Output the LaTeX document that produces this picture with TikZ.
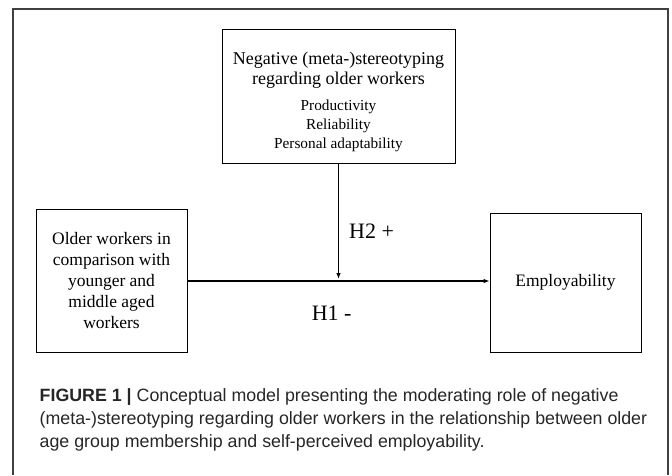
\documentclass[tikz,border=0pt]{standalone}
\usepackage{fontspec}
\setmainfont{Liberation Serif}
\newfontfamily\capfont{Liberation Sans}
\usetikzlibrary{arrows.meta}
\begin{document}
\begin{tikzpicture}[x=1pt,y=-1pt,
  boxnode/.style={draw=black, line width=0.9pt, inner sep=0pt, align=center},
  txt/.style={inner sep=0pt, align=center},
  conn/.style={line width=1.1pt, -{Latex[length=6pt,width=4.5pt]}},
  hlabel/.style={font=\fontsize{22}{24}\selectfont, inner sep=0pt, anchor=base west},
  capline/.style={font=\capfont\fontsize{17.8}{23}\selectfont, inner sep=0pt, anchor=base west, text=black!85}
]
\useasboundingbox (0,0) rectangle (672,475);
\draw[line width=1.5pt, black!75] (13,475) -- (13,9) -- (668,9) -- (668,475);

% moderator box
\node[boxnode, minimum width=233pt, minimum height=134pt] (mod) at (338.5,96) {};
\node[txt, font=\fontsize{18}{19.5}\selectfont] (modtitle) at (338.5,70)
  {Negative (meta-)stereotyping\\regarding older workers};
\node[txt, font=\fontsize{15.3}{18.8}\selectfont] (moditems) at (338.5,126)
  {Productivity\\Reliability\\Personal adaptability};

% independent variable
\node[boxnode, minimum width=151pt, minimum height=143pt,
      font=\fontsize{17.5}{20.8}\selectfont] (iv) at (111.5,280.5)
  {Older workers in\\comparison with\\younger and\\middle aged\\workers};

% dependent variable
\node[boxnode, minimum width=151pt, minimum height=139pt,
      font=\fontsize{17.5}{20.8}\selectfont] (dv) at (565.5,282.5)
  {Employability};

\coordinate (mid) at (338.5,281);
\draw[conn] (iv.east |- mid) -- (dv.west |- mid);
\draw[conn, shorten >=2pt] (mod.south) -- (mid);

\node[hlabel] (h2) at (349,238) {H2 +};
\node[hlabel] (h1) at (311.6,320) {H1 -};

% caption
\node[capline] (cap1) at (39.5,401)
  {\textbf{FIGURE 1 |} Conceptual model presenting the moderating role of negative};
\node[capline] (cap2) at (39.5,424)
  {(meta-)stereotyping regarding older workers in the relationship between older};
\node[capline] (cap3) at (39.5,447)
  {age group membership and self-perceived employability.};
\end{tikzpicture}
\end{document}
